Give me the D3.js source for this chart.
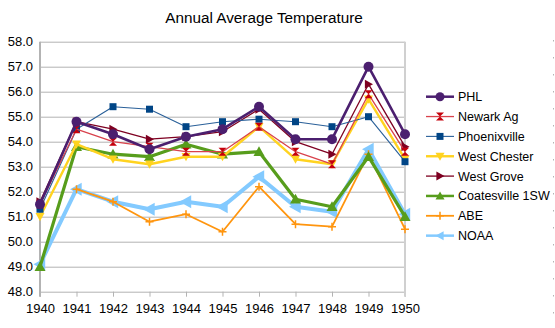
<!DOCTYPE html>
<html>
<head>
<meta charset="utf-8">
<script src="https://cdn.jsdelivr.net/npm/d3@7"></script>
<style>
  body { margin: 0; background: #fff; }
  text { font-family: "Liberation Sans", Arial, sans-serif; fill: #000; }
  .grid line { stroke: #b3b3b3; }
  .grid .domain { display: none; }
</style>
</head>
<body>
<div class="chart-area"></div>
<script>
var years = [1940, 1941, 1942, 1943, 1944, 1945, 1946, 1947, 1948, 1949, 1950];
var yTicks = [48, 49, 50, 51, 52, 53, 54, 55, 56, 57, 58];

var phl          = [51.5, 54.8, 54.3, 53.7, 54.2, 54.5, 55.4, 54.1, 54.1, 57.0, 54.3];
var newarkAg     = [51.5, 54.5, 54.0, 53.8, 53.6, 53.6, 54.6, 53.6, 53.1, 55.9, 53.6];
var phoenixville = [51.3, 54.5, 55.4, 55.3, 54.6, 54.8, 54.9, 54.8, 54.6, 55.0, 53.2];
var westChester  = [51.0, 53.9, 53.3, 53.1, 53.4, 53.4, 54.6, 53.3, 53.1, 55.7, 53.3];
var westGrove    = [51.6, 54.8, 54.5, 54.1, 54.2, 54.4, 55.3, 54.0, 53.5, 56.3, 53.8];
var coatesville  = [49.0, 53.8, 53.5, 53.4, 53.9, 53.5, 53.6, 51.7, 51.4, 53.4, 51.0];
var abe          = [null, 52.1, 51.6, 50.8, 51.1, 50.4, 52.2, 50.7, 50.6, 53.5, 50.5];
var noaa         = [49.1, 52.1, 51.6, 51.3, 51.6, 51.4, 52.6, 51.4, 51.2, 53.7, 51.1];

var names = ["PHL", "Newark Ag", "Phoenixville", "West Chester", "West Grove", "Coatesville 1SW", "ABE", "NOAA"];
var values = [phl, newarkAg, phoenixville, westChester, westGrove, coatesville, abe, noaa];

var styles = [
  { line: "#4b1f6f", mark: "#4b1f6f", w: 2.6, shape: "circle", size: 5 },
  { line: "#d9424c", mark: "#c5000b", w: 1.3, shape: "hourglass", size: 4 },
  { line: "#2a6099", mark: "#004586", w: 1.1, shape: "square", size: 3.5 },
  { line: "#ffd320", mark: "#ffd320", w: 2.4, shape: "down", size: 4.5 },
  { line: "#7e0021", mark: "#7e0021", w: 1.3, shape: "right", size: 4.5 },
  { line: "#579d1c", mark: "#579d1c", w: 3.2, shape: "up", size: 5.5 },
  { line: "#ff950e", mark: "#ff950e", w: 1.8, shape: "plus", size: 4 },
  { line: "#83caff", mark: "#83caff", w: 4, shape: "left", size: 6.5 }
];

var width = 555, height = 328;
var svg = d3.select(".chart-area").append("svg")
  .attr("width", width).attr("height", height);

var x = d3.scaleLinear().domain([1940, 1950]).range([40, 405]);
var y = d3.scaleLinear().domain([48, 58]).range([291.7, 41.7]);

// title
svg.append("text")
  .attr("x", 264).attr("y", 22.5)
  .attr("text-anchor", "middle")
  .style("font-size", "15.3px")
  .text("Annual Average Temperature");

// gridlines + y labels
var yAxis = svg.append("g")
  .attr("class", "grid")
  .attr("transform", "translate(40,0)")
  .call(d3.axisLeft(y).tickValues(yTicks).tickFormat(d3.format(".1f"))
    .tickSize(-365).tickSizeOuter(0).tickPadding(7));
yAxis.selectAll("text").style("font-size", "13px").attr("fill", "#000");

// x axis ticks + labels
var xAxis = svg.append("g")
  .attr("class", "grid")
  .attr("transform", "translate(0," + y(48) + ")")
  .call(d3.axisBottom(x).tickValues(years).tickFormat(d3.format("d"))
    .tickSize(5).tickSizeOuter(0).tickPadding(7));
xAxis.selectAll("text").style("font-size", "13px").attr("fill", "#000");

// frame lines
svg.append("line").attr("x1", 40).attr("x2", 40).attr("y1", y(58)).attr("y2", y(48) + 5)
  .attr("stroke", "#b3b3b3").attr("stroke-width", 2);
svg.append("line").attr("x1", 405).attr("x2", 405).attr("y1", y(58)).attr("y2", y(48) + 5)
  .attr("stroke", "#d0d0d0").attr("stroke-width", 2);
svg.append("line").attr("x1", 553.5).attr("x2", 553.5).attr("y1", 40).attr("y2", 320)
  .attr("stroke", "#b3b3b3").attr("stroke-dasharray", "1.5,15.5");

function markerPath(shape, s) {
  switch (shape) {
    case "square": return "M" + (-s) + "," + (-s) + "h" + 2 * s + "v" + 2 * s + "h" + (-2 * s) + "Z";
    case "up": return "M0," + (-s) + "L" + s + "," + s * 0.8 + "L" + (-s) + "," + s * 0.8 + "Z";
    case "down": return "M0," + s + "L" + s + "," + (-s * 0.8) + "L" + (-s) + "," + (-s * 0.8) + "Z";
    case "left": return "M" + (-s) + ",0L" + s * 0.8 + "," + (-s) + "L" + s * 0.8 + "," + s + "Z";
    case "right": return "M" + s + ",0L" + (-s * 0.8) + "," + (-s) + "L" + (-s * 0.8) + "," + s + "Z";
    case "hourglass": return "M" + (-s) + "," + (-s) + "L" + s + "," + (-s) + "L0,0Z" +
      "M" + (-s) + "," + s + "L" + s + "," + s + "L0,0Z";
    case "plus": return "M" + (-s) + ",0H" + s + "M0," + (-s) + "V" + s;
    default: return d3.symbol(d3.symbolCircle, Math.PI * s * s)();
  }
}

function drawMarker(g, st) {
  var p = g.append("path").attr("d", markerPath(st.shape, st.size));
  if (st.shape === "plus") p.attr("fill", "none").attr("stroke", st.mark).attr("stroke-width", 1.5);
  else p.attr("fill", st.mark);
}

var line = d3.line()
  .defined(function(d) { return d[1] !== null; })
  .x(function(d) { return x(d[0]); })
  .y(function(d) { return y(d[1]); });

// draw last series first so PHL sits on top
for (var i = values.length - 1; i >= 0; i--) {
  var st = styles[i];
  var pts = years.map(function(yr, j) { return [yr, values[i][j]]; });
  var g = svg.append("g");
  g.append("path").datum(pts).attr("d", line)
    .attr("fill", "none").attr("stroke", st.line).attr("stroke-width", st.w)
    .attr("stroke-linejoin", "round");
  pts.filter(function(d) { return d[1] !== null; }).forEach(function(d) {
    drawMarker(g.append("g").attr("transform", "translate(" + x(d[0]) + "," + y(d[1]) + ")"), st);
  });
}

// legend
var legend = svg.append("g");
names.forEach(function(name, i) {
  var ly = 96.7 + i * 19.85, st = styles[i];
  var lg = legend.append("g").attr("transform", "translate(0," + ly + ")");
  lg.append("line").attr("x1", 426).attr("x2", 454).attr("y1", 0).attr("y2", 0)
    .attr("stroke", st.line).attr("stroke-width", Math.min(st.w, 2.5));
  drawMarker(lg.append("g").attr("transform", "translate(440,0)"),
    { mark: st.mark, shape: st.shape, size: Math.min(st.size, 4.5) });
  lg.append("text").attr("x", 458).attr("y", 0).attr("dy", "0.36em")
    .style("font-size", "12.5px").text(name);
});
</script>
</body>
</html>
